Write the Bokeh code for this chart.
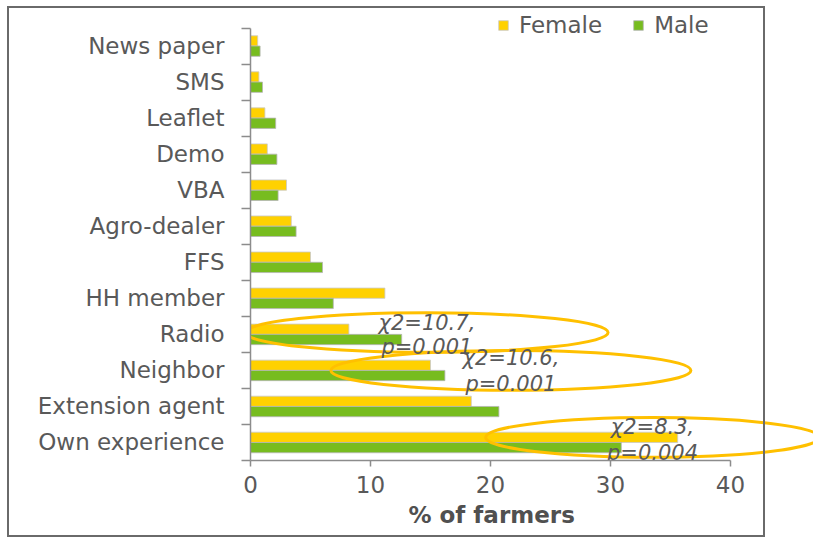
from bokeh.plotting import figure
from bokeh.models import (Range1d, FixedTicker, Title, Legend, LegendItem,
                          ColumnDataSource, InlineStyleSheet)
from bokeh.transform import dodge
from bokeh.core.properties import value
from bokeh.embed import file_html
from bokeh.resources import INLINE

# ---------------- data ----------------
categories = ["News paper", "SMS", "Leaflet", "Demo", "VBA", "Agro-dealer",
              "FFS", "HH member", "Radio", "Neighbor", "Extension agent",
              "Own experience"]
female = [0.6, 0.7, 1.2, 1.4, 3.0, 3.4, 5.0, 11.2, 8.2, 15.0, 18.4, 35.6]
male = [0.8, 1.0, 2.1, 2.2, 2.3, 3.8, 6.0, 6.9, 12.6, 16.2, 20.7, 30.9]
series_names = ["Female", "Male"]
x_ticks = [0, 10, 20, 30, 40]
x_title = "% of farmers"

stat_categories = ["Radio", "Neighbor", "Own experience"]
stat_chi2 = ["χ2=10.7,", "χ2=10.6,", "χ2=8.3,"]
stat_p = ["p=0.001", "p=0.001", "p=0.004"]

# ---------------- annotation layout (styling, not data) ----------------
ell_x = [14.7, 21.7, 33.5]
ell_w = [30.2, 30.0, 27.8]
ell_dy = [0.05, 0.0, 0.14]
ell_h = 1.1
chi_dy = [0.31, 0.35, 0.42]
p_dy = [-0.36, -0.38, -0.28]

FEMALE_C = "#FFD100"
MALE_C = "#77BC1F"
GOLD = "#FFC000"
TXT = "#595959"
AX = "#8c8c8c"
FONT = "DejaVu Sans"

n = len(categories)
ypos = [n - i - 0.5 for i in range(n)]
ymap = dict(zip(categories, ypos))

W, H = 813, 539
border_css = InlineStyleSheet(css="""
:host { position: relative; }
:host::after {
  content: ""; position: absolute; left: 7px; top: 6px;
  width: 758px; height: 531px; border: 2px solid #6a6a6a;
  box-sizing: border-box; pointer-events: none;
}
""")

p = figure(width=W, height=H, output_backend="svg", toolbar_location=None,
           x_range=Range1d(0, 563 / 12.0), y_range=Range1d(0, 450 / 36.04),
           min_border_left=250, min_border_right=0, min_border_top=10,
           min_border_bottom=79, stylesheets=[border_css])
p.outline_line_color = None
p.xgrid.visible = False
p.ygrid.visible = False

src = ColumnDataSource(dict(y=ypos, female=female, male=male, cat=categories))
bh = 0.285
rf = p.hbar(y=dodge("y", bh / 2, range=p.y_range), right="female", left=0,
            height=bh, source=src, fill_color=FEMALE_C,
            line_color="#c9c9c9", line_width=0.8)
rm = p.hbar(y=dodge("y", -bh / 2, range=p.y_range), right="male", left=0,
            height=bh, source=src, fill_color=MALE_C,
            line_color="#b5b5b5", line_width=0.8)

# x axis
xa = p.xaxis[0]
xa.ticker = FixedTicker(ticks=x_ticks)
xa.bounds = (min(x_ticks), max(x_ticks))
xa.axis_line_color = AX
xa.axis_line_width = 1.5
xa.major_tick_line_color = AX
xa.major_tick_line_width = 1.5
xa.major_tick_out = 6
xa.major_tick_in = 0
xa.minor_tick_line_color = None
xa.major_label_text_font = FONT
xa.major_label_text_font_size = "23px"
xa.major_label_text_color = TXT
xa.major_label_standoff = 9

# y axis
ya = p.yaxis[0]
ya.ticker = FixedTicker(ticks=ypos, minor_ticks=list(range(0, n + 1)))
ya.bounds = (0, n)
ya.axis_line_color = AX
ya.axis_line_width = 1.5
ya.major_tick_line_color = None
ya.major_tick_out = 0
ya.major_tick_in = 0
ya.minor_tick_line_color = AX
ya.minor_tick_line_width = 1.5
ya.minor_tick_out = 9
ya.minor_tick_in = 0
ya.major_label_overrides = {y: c for y, c in zip(ypos, categories)}
ya.major_label_text_font = FONT
ya.major_label_text_font_size = "23px"
ya.major_label_text_color = TXT
ya.major_label_standoff = 17

# ellipses & stats text
ell_src = ColumnDataSource(dict(
    x=ell_x, w=ell_w,
    y=[ymap[c] + d for c, d in zip(stat_categories, ell_dy)]))
p.ellipse(x="x", y="y", width="w", height=ell_h, source=ell_src,
          fill_color=None, line_color=GOLD, line_width=3)

txt_src = ColumnDataSource(dict(
    x=ell_x + ell_x,
    y=[ymap[c] + d for c, d in zip(stat_categories, chi_dy)] +
      [ymap[c] + d for c, d in zip(stat_categories, p_dy)],
    t=stat_chi2 + stat_p))
p.text(x="x", y="y", text="t", source=txt_src, text_align="center",
       text_baseline="middle", text_font=value(FONT), text_font_size="21px",
       text_font_style="italic", text_color=TXT)

# axis title (as a title below, shifted to sit under the 0-40 span)
p.add_layout(Title(text=x_title, align="left", offset=158, standoff=8,
                   text_font=FONT, text_font_size="23px",
                   text_font_style="bold", text_color="#505050"), "below")

# legend
legend = Legend(items=[LegendItem(label=series_names[0], renderers=[rf]),
                       LegendItem(label=series_names[1], renderers=[rm])],
                orientation="horizontal", location=(247, 422),
                glyph_width=12, glyph_height=12, label_standoff=10,
                spacing=30, padding=0, margin=0,
                background_fill_alpha=0, border_line_alpha=0,
                label_text_font=FONT, label_text_font_size="23px",
                label_text_color=TXT)
p.add_layout(legend)

open("out.html", "w").write(file_html(p, INLINE))
